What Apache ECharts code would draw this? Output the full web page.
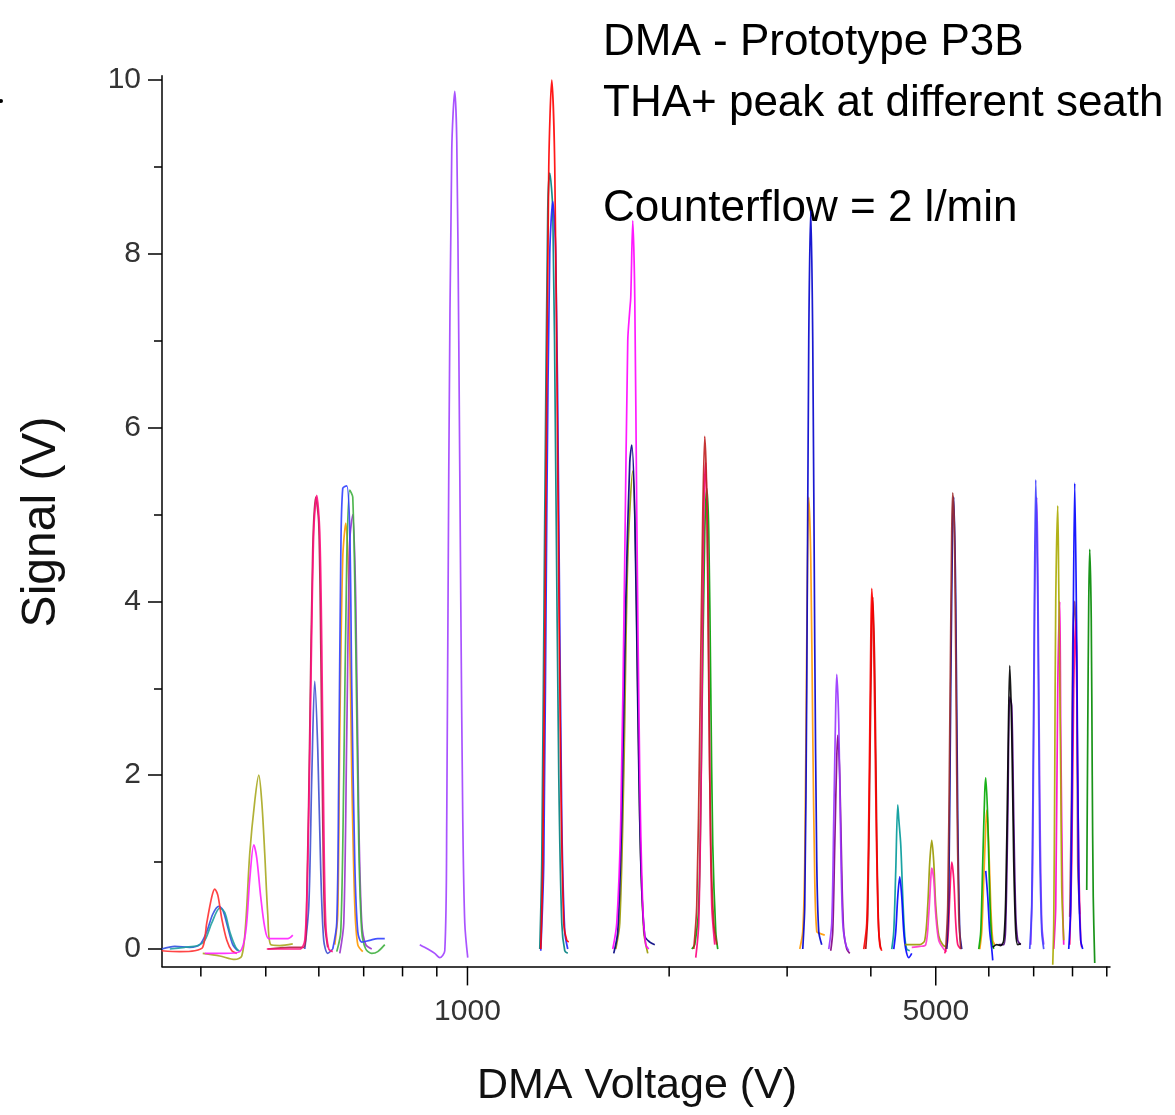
<!DOCTYPE html>
<html><head><meta charset="utf-8">
<script src="https://cdn.jsdelivr.net/npm/echarts@6/dist/echarts.min.js"></script>
<style>html,body{margin:0;padding:0;background:#fff}#c{width:1175px;height:1115px}</style>
</head><body><div id="c"></div>
<script>
// ---- axis ticks ----
const xMajorTicks = [1000, 5000];
const xMinorTicks = [400, 500, 600, 700, 800, 900, 2000, 3000, 4000, 6000, 7000, 8000, 9000];
const yMajorTicks = [0, 2, 4, 6, 8, 10];
const yMinorTicks = [1, 3, 5, 7, 9];
const X_MIN = 350, X_MAX = 9100, Y_MIN = -0.2, Y_MAX = 10.05;

// ---- traces: [DMA voltage (V), signal (V)] ----
const a_blue = [[349.7,0.0],[365.7,0.03],[385.0,0.02],[398.5,0.05],[408.2,0.2],[416.7,0.4],[425.4,0.49],[431.3,0.45],[438.8,0.25],[446.4,0.05],[454.1,-0.02]];
const a_teal = [[359.5,0.0],[378.5,0.02],[395.8,0.04],[405.4,0.1],[415.3,0.3],[426.9,0.47],[434.3,0.42],[441.8,0.2],[451.0,0.02],[457.3,-0.03]];
const a_red = [[349.7,-0.02],[372.0,-0.03],[391.7,-0.02],[402.6,0.02],[408.2,0.3],[415.3,0.6],[419.6,0.69],[424.0,0.62],[429.8,0.35],[437.3,0.1],[444.9,-0.02],[452.6,-0.05]];
const b_magenta = [[405.4,-0.05],[434.3,-0.05],[457.3,-0.03],[466.7,0.2],[473.2,0.8],[479.8,1.2],[484.7,1.05],[491.4,0.6],[498.2,0.25],[505.2,0.12],[524.6,0.12],[539.3,0.12],[548.6,0.16]];
const b_olive = [[402.6,-0.05],[426.9,-0.08],[449.5,-0.12],[460.4,-0.08],[466.7,0.3],[473.2,1.1],[481.4,1.7],[488.1,2.0],[493.1,1.7],[498.2,1.1],[503.4,0.4],[508.7,0.05],[524.6,0.04],[548.6,0.06]];
const c_pink = [[501.7,0.0],[533.7,0.0],[562.0,0.0],[571.7,0.1],[577.7,1.0],[583.7,3.0],[589.6,4.8],[595.7,5.22],[601.9,4.8],[606.1,3.5],[610.2,1.5],[614.4,0.3],[620.8,0.0],[629.4,-0.03]];
const c_brown = [[503.4,0.0],[543.0,0.02],[569.8,0.02],[575.7,0.6],[581.6,2.5],[587.6,4.6],[593.7,5.2],[599.8,4.9],[604.0,3.5],[608.1,1.5],[612.3,0.3],[618.7,0.02]];
const c_blue = [[571.7,0.0],[579.7,0.5],[585.7,2.0],[591.6,3.08],[597.8,2.3],[604.0,0.9],[610.2,0.1],[618.7,-0.05],[629.4,0.0]];
const d_blue = [[629.4,0.0],[638.1,0.3],[642.5,2.0],[647.0,4.5],[651.4,5.3],[660.5,5.33],[667.3,4.8],[671.9,3.0],[678.9,1.0],[685.9,0.2],[695.4,0.08],[714.8,0.1],[734.7,0.12],[752.6,0.12]];
const d_green = [[638.1,-0.03],[647.0,0.2],[653.7,2.0],[660.5,4.5],[667.3,5.28],[674.2,5.2],[681.2,3.5],[688.3,1.2],[695.4,0.2],[705.0,0.0],[719.7,-0.05],[734.7,-0.03],[752.6,0.05]];
const d_orange = [[633.8,0.05],[640.3,0.4],[644.8,2.5],[651.4,4.5],[658.2,4.9],[665.0,4.2],[671.9,2.0],[678.9,0.5],[685.9,0.05],[697.8,-0.03]];
const d_purple = [[644.8,-0.05],[653.7,0.3],[660.5,2.5],[667.3,4.7],[674.2,5.0],[681.2,4.0],[688.3,1.5],[695.4,0.3],[705.0,0.05],[719.7,0.0]];
const e_violet = [[848.8,0.05],[872.5,0.0],[893.7,-0.05],[909.2,-0.1],[925.0,-0.02],[931.3,1.5],[937.8,5.5],[947.5,9.2],[957.3,9.87],[963.9,9.3],[970.6,7.0],[977.3,4.0],[984.0,1.5],[990.8,0.3],[1001.0,-0.1]];
const f_red = [[1286.5,0.0],[1295.4,1.0],[1308.8,5.0],[1322.4,9.0],[1336.1,10.0],[1349.9,9.0],[1363.9,5.5],[1378.0,2.0],[1392.3,0.3],[1406.7,0.1],[1416.4,0.08]];
const f_teal = [[1282.1,0.0],[1290.9,1.0],[1304.3,5.0],[1317.8,8.5],[1326.9,8.93],[1340.7,8.5],[1354.5,5.5],[1368.6,2.0],[1382.8,0.3],[1397.1,-0.02],[1411.6,-0.05]];
const f_blue = [[1286.5,-0.02],[1299.8,1.0],[1313.3,5.0],[1326.9,8.0],[1340.7,8.6],[1354.5,8.0],[1368.6,5.0],[1382.8,1.5],[1397.1,0.2],[1411.6,0.0]];
const g_magenta = [[1647.7,0.0],[1670.5,0.3],[1693.6,1.5],[1717.0,4.5],[1734.8,7.0],[1746.8,7.35],[1752.8,7.5],[1764.9,8.38],[1777.1,7.5],[1789.3,5.0],[1807.9,2.0],[1826.6,0.5],[1845.5,0.05],[1864.7,0.0]];
const g_navy = [[1653.3,-0.05],[1676.2,0.2],[1699.4,1.5],[1722.9,4.0],[1746.8,5.6],[1758.8,5.8],[1777.1,5.0],[1795.5,2.8],[1814.1,1.0],[1839.2,0.15],[1871.1,0.08],[1903.6,0.05]];
const g_olive = [[1664.7,0.0],[1687.8,0.3],[1711.2,2.0],[1734.8,4.5],[1764.9,5.5],[1783.2,4.5],[1807.9,1.5],[1832.9,0.2],[1858.3,-0.05]];
const h_red = [[2176.5,0.0],[2199.1,0.5],[2221.9,2.5],[2244.9,5.0],[2260.4,5.9],[2276.0,5.2],[2291.7,3.0],[2307.5,1.2],[2331.4,0.3],[2355.6,0.05]];
const h_green = [[2161.6,0.0],[2184.0,0.05],[2214.3,0.5],[2237.2,2.5],[2260.4,4.8],[2276.0,5.3],[2291.7,4.8],[2307.5,3.0],[2323.4,1.2],[2347.5,0.2],[2363.7,0.0]];
const h_pink = [[2191.5,-0.1],[2214.3,0.3],[2237.2,2.5],[2252.6,5.0],[2268.2,5.6],[2283.8,4.5],[2299.6,2.0],[2315.4,0.5],[2339.4,0.05]];
const i_blue = [[3165.5,0.0],[3187.4,0.5],[3209.3,3.0],[3231.5,7.0],[3253.8,8.5],[3276.2,7.0],[3298.8,3.5],[3321.6,1.0],[3344.5,0.2],[3379.1,0.05]];
const i_orange = [[3133.1,0.0],[3165.5,0.2],[3187.4,1.0],[3209.3,3.5],[3231.5,5.2],[3253.8,4.5],[3276.2,2.5],[3298.8,0.8],[3321.6,0.2],[3356.0,0.18],[3414.1,0.16]];
const j_purple = [[3461.4,0.0],[3497.3,0.3],[3521.4,1.5],[3545.7,2.8],[3557.9,3.16],[3582.5,2.6],[3607.2,1.2],[3632.1,0.3],[3669.7,0.05],[3707.7,-0.02]];
const j_darkpurple = [[3485.3,-0.02],[3509.3,0.2],[3533.6,1.2],[3557.9,2.2],[3570.2,2.46],[3594.8,2.0],[3619.6,0.9],[3644.6,0.2],[3682.3,0.0],[3720.5,-0.05]];
const k_red = [[3903.9,0.0],[3944.3,0.3],[3971.5,1.5],[3998.9,3.5],[4012.7,4.15],[4040.4,3.5],[4068.2,1.8],[4096.3,0.5],[4124.5,0.05],[4153.0,-0.02]];
const k_darkred = [[3930.8,0.0],[3957.9,0.4],[3985.2,2.0],[4012.7,3.7],[4026.5,4.05],[4054.3,3.2],[4082.2,1.3],[4110.4,0.2],[4138.7,0.0]];
const l_teal = [[4298.2,0.0],[4327.8,0.2],[4357.6,0.9],[4387.7,1.66],[4402.8,1.5],[4433.2,1.2],[4463.8,0.6],[4494.6,0.15],[4525.6,0.0],[4572.5,-0.02]];
const l_blue = [[4327.8,0.0],[4357.6,0.2],[4387.7,0.6],[4418.0,0.83],[4448.5,0.6],[4479.2,0.2],[4510.0,0.0],[4556.8,-0.1],[4604.0,-0.05]];
const m_olive = [[4494.6,0.05],[4604.0,0.05],[4732.3,0.05],[4814.4,0.1],[4864.2,0.5],[4897.8,1.0],[4931.6,1.25],[4965.6,1.0],[4999.8,0.5],[5051.6,0.15],[5121.6,0.05],[5192.5,0.02]];
const m_magenta = [[4604.0,0.02],[4732.3,0.03],[4830.9,0.05],[4881.0,0.4],[4914.7,0.8],[4931.6,0.93],[4965.6,0.8],[4999.8,0.4],[5051.6,0.1],[5139.2,0.0],[5192.5,-0.03]];
const n_brown = [[5174.6,0.0],[5210.3,0.5],[5246.3,2.5],[5282.4,4.8],[5300.6,5.25],[5337.2,4.6],[5374.0,2.0],[5411.1,0.4],[5448.4,0.0]];
const n_navy = [[5192.4,0.0],[5228.3,0.6],[5264.3,3.0],[5300.6,5.0],[5318.9,5.2],[5355.6,4.0],[5392.5,1.5],[5429.7,0.2],[5467.1,0.0]];
const n_pink = [[5156.9,-0.05],[5210.3,0.1],[5246.3,0.6],[5282.4,1.0],[5318.9,0.8],[5355.6,0.3],[5392.5,0.05],[5448.4,0.0]];
const o_green = [[5796.0,0.0],[5836.0,0.2],[5876.3,1.0],[5916.8,1.8],[5937.2,1.97],[5978.1,1.5],[6019.3,0.6],[6060.9,0.1],[6102.7,0.0]];
const o_orange = [[5816.0,0.0],[5856.1,0.2],[5896.5,0.8],[5937.2,1.4],[5957.6,1.6],[5998.7,1.2],[6040.1,0.5],[6081.7,0.1],[6123.7,0.05]];
const o_blue = [[5937.2,0.9],[5978.1,0.6],[6019.3,0.2],[6060.9,0.0],[6081.7,-0.13]];
const p_black = [[6081.7,0.02],[6166.0,0.05],[6251.3,0.04],[6316.1,0.1],[6359.6,0.6],[6403.5,2.0],[6447.7,3.26],[6492.2,2.5],[6536.9,1.0],[6582.0,0.2],[6627.4,0.05],[6696.1,0.06]];
const p_indigo = [[6208.5,0.05],[6316.1,0.05],[6359.6,0.3],[6403.5,1.5],[6447.7,2.9],[6492.2,2.8],[6536.9,1.5],[6582.0,0.4],[6627.4,0.1],[6696.1,0.05]];
const q_blue = [[6906.4,0.0],[6954.0,0.5],[7002.0,3.0],[7050.3,5.4],[7098.9,4.0],[7147.9,1.2],[7197.2,0.2],[7246.8,0.0]];
const q_purple = [[6930.2,0.05],[6978.0,1.0],[7026.1,4.0],[7074.6,5.2],[7098.9,4.5],[7147.9,1.8],[7197.2,0.3],[7246.8,0.05]];
const r_olive = [[7474.5,-0.18],[7500.2,0.3],[7526.2,2.0],[7551.9,4.0],[7604.0,5.1],[7630.2,4.2],[7682.9,2.0],[7709.3,0.7],[7762.5,0.1]];
const r_magenta = [[7500.2,0.0],[7551.9,0.5],[7604.0,3.0],[7656.5,4.0],[7682.9,2.5],[7735.8,0.5],[7762.5,0.05]];
const s_blue = [[7897.0,0.0],[7951.4,0.5],[8006.3,3.0],[8061.5,5.36],[8117.1,3.5],[8173.1,0.8],[8229.4,0.1],[8286.2,0.0]];
const s_pink = [[7924.2,0.05],[7978.8,1.0],[8033.8,3.0],[8089.3,3.8],[8117.1,3.0],[8173.1,1.0],[8229.4,0.1],[8257.8,0.02]];
const s_brown = [[7924.2,0.37],[7978.8,2.0],[8006.3,3.5],[8061.5,4.0],[8117.1,3.2],[8145.0,1.0],[8201.2,0.4]];
const t_green = [[8400.9,0.68],[8429.8,2.5],[8458.9,4.0],[8488.0,4.6],[8531.9,3.8],[8561.2,2.0],[8590.7,0.6],[8635.1,-0.16]];

const traces = [
  [a_blue,'#3050e0'],[a_teal,'#20a0a0'],[a_red,'#ff3030'],
  [b_olive,'#a8a820'],[b_magenta,'#ff20ff'],
  [c_blue,'#4050d0'],[c_brown,'#b02040'],[c_pink,'#ff1080'],
  [d_orange,'#ff9900'],[d_purple,'#9933cc'],[d_green,'#40b040'],[d_blue,'#3040ff'],
  [e_violet,'#a040ff'],
  [f_teal,'#008080'],[f_blue,'#2020ff'],[f_red,'#ff0000'],
  [g_olive,'#999900'],[g_navy,'#000080'],[g_magenta,'#ff00ff'],
  [h_green,'#00a000'],[h_pink,'#ff0080'],[h_red,'#c02020'],
  [i_orange,'#ff9900'],[i_blue,'#0000cc'],
  [j_darkpurple,'#800080'],[j_purple,'#9933ff'],
  [k_darkred,'#b00000'],[k_red,'#ff0000'],
  [l_teal,'#009999'],[l_blue,'#0000ff'],
  [m_olive,'#999900'],[m_magenta,'#ff33cc'],
  [n_pink,'#ff0066'],[n_navy,'#000099'],[n_brown,'#a03030'],
  [o_orange,'#ff9900'],[o_green,'#00aa00'],[o_blue,'#0000ff'],
  [p_indigo,'#4b0082'],[p_black,'#000000'],
  [q_purple,'#9933ff'],[q_blue,'#4040ff'],
  [r_magenta,'#ff00cc'],[r_olive,'#aaaa00'],
  [s_brown,'#a04060'],[s_pink,'#ff0080'],[s_blue,'#0000ff'],
  [t_green,'#008800']
];

const FONT = '"Liberation Sans", Arial, sans-serif';
const chart = echarts.init(document.getElementById('c'), null, {renderer: 'canvas'});

const lineSeries = traces.map(([data, color]) => ({
  type: 'line', data: data, showSymbol: false, symbol: 'none', smooth: 0.3,
  lineStyle: {color: color, width: 1.7, opacity: 0.9}, itemStyle: {color: color},
  silent: true, z: 2, clip: false
}));

const xTickData = xMinorTicks.map(v => [v, 0]).concat(xMajorTicks.map(v => [v, 1]));

const tickSeries = {
  type: 'custom', coordinateSystem: 'cartesian2d', silent: true, clip: false, z: 5,
  data: xTickData,
  renderItem: function (params, api) {
    const v = api.value(0);
    const major = api.value(1) === 1;
    const p = api.coord([v, Y_MIN]);
    const children = [{
      type: 'line',
      shape: {x1: p[0], y1: p[1], x2: p[0], y2: p[1] + (major ? 19 : 10)},
      style: {stroke: '#000', lineWidth: 1.5}
    }];
    if (major) {
      children.push({
        type: 'text',
        style: {text: String(v), x: p[0], y: p[1] + 45, align: 'center', verticalAlign: 'middle',
                font: '30px ' + FONT, fill: '#333'}
      });
    }
    return {type: 'group', children: children};
  }
};

chart.setOption({
  animation: false,
  backgroundColor: '#fff',
  grid: {left: 162, right: 65, top: 75.65, bottom: 148.6, containLabel: false},
  xAxis: {
    type: 'log', logBase: 10, min: X_MIN, max: X_MAX,
    axisLine: {show: true, onZero: false, lineStyle: {color: '#000', width: 1.5}},
    axisTick: {show: false}, axisLabel: {show: false}, splitLine: {show: false}, minorTick: {show: false}
  },
  yAxis: [{
    type: 'value', min: Y_MIN, max: Y_MAX,
    axisLine: {show: true, onZero: false, lineStyle: {color: '#000', width: 1.5}},
    axisTick: {show: true, length: 14, inside: false, customValues: yMajorTicks, lineStyle: {color: '#000', width: 1.5}},
    axisLabel: {show: true, customValues: yMajorTicks, fontSize: 30, fontFamily: FONT, color: '#333', margin: 21},
    splitLine: {show: false}
  }, {
    type: 'value', min: Y_MIN, max: Y_MAX, position: 'left', offset: 0,
    axisLine: {show: false, onZero: false},
    axisTick: {show: true, length: 8, inside: false, customValues: yMinorTicks, lineStyle: {color: '#000', width: 1.5}},
    axisLabel: {show: false}, splitLine: {show: false}
  }],
  series: lineSeries.concat([tickSeries]),
  graphic: [
    {type: 'text', left: 603, top: 21, style: {text: 'DMA - Prototype P3B', font: '44px ' + FONT, fill: '#000'}},
    {type: 'text', left: 603, top: 82, style: {text: 'THA+ peak at different seath', font: '44px ' + FONT, fill: '#000'}},
    {type: 'text', left: 603, top: 187, style: {text: 'Counterflow = 2 l/min', font: '44px ' + FONT, fill: '#000'}},
    {type: 'text', x: 42, y: 522, rotation: Math.PI / 2,
     style: {text: 'Signal (V)', font: '48px ' + FONT, fill: '#111', align: 'center', verticalAlign: 'middle'}},
    {type: 'text', x: 637, y: 1086,
     style: {text: 'DMA Voltage (V)', font: '43px ' + FONT, fill: '#111', align: 'center', verticalAlign: 'middle'}},
    {type: 'circle', shape: {cx: 1, cy: 101, r: 2}, style: {fill: '#000'}}
  ]
});
</script>
</body></html>
